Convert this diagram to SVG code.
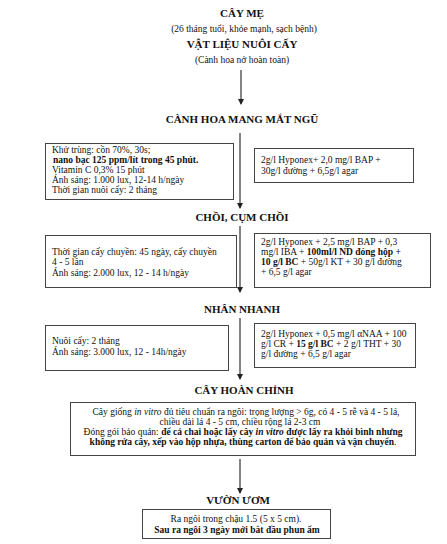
<svg xmlns="http://www.w3.org/2000/svg" width="447" height="544" viewBox="0 0 447 544">
<defs>
<marker id="ah" markerWidth="6" markerHeight="6" refX="5" refY="3" orient="auto" markerUnits="userSpaceOnUse">
<path d="M0,0 L6,3 L0,6 z" fill="#222"/>
</marker>
<style>
text{font-family:"Liberation Serif","Times New Roman",serif;fill:#111}
.t{font-size:11px;font-weight:bold;text-anchor:middle}
.s{font-size:9.5px;text-anchor:middle}
.b{font-size:9.5px}
.c{font-size:9.5px;text-anchor:middle}
.box{fill:#fff;stroke:#444;stroke-width:1}
.ln{stroke:#333;stroke-width:1.2;fill:none;marker-end:url(#ah)}
</style>
</defs>
<rect width="447" height="544" fill="#fff"/>
<g id="connectors">
<line class="ln" x1="241" y1="70" x2="241" y2="104"/>
<line class="ln" x1="240" y1="133" x2="240" y2="208"/>
<line class="ln" x1="240" y1="226" x2="240" y2="292"/>
<line class="ln" x1="240" y1="318" x2="240" y2="379"/>
<line class="ln" x1="240" y1="459" x2="240" y2="493"/>
</g>
<g id="cay-me">
<text class="t" x="242" y="17">CÂY MẸ</text>
<text class="s" x="244" y="32">(26 tháng tuổi, khỏe mạnh, sạch bệnh)</text>
<text class="t" x="242" y="48">VẬT LIỆU NUÔI CẤY</text>
<text class="s" x="242" y="63">(Cành hoa nở hoàn toàn)</text>
</g>
<g id="canh-hoa">
<text class="t" x="242" y="123">CÀNH HOA MANG MẮT NGŨ</text>
</g>
<g id="box1-left">
<rect class="box" x="45.5" y="143.5" width="188" height="56"/>
<text class="b" x="52" y="153">Khử trùng: cồn 70%, 30s;</text>
<text class="b" x="53" y="163" font-weight="bold">nano bạc 125 ppm/lít trong 45 phút.</text>
<text class="b" x="52" y="173">Vitamin C 0,3% 15 phút</text>
<text class="b" x="52" y="183">Ánh sáng: 1.000 lux, 12-14 h/ngày</text>
<text class="b" x="52" y="193">Thời gian nuôi cấy: 2 tháng</text>
</g>
<g id="box1-right">
<rect class="box" x="254.5" y="148.5" width="159" height="34"/>
<text class="b" x="261" y="163">2g/l Hyponex+ 2,0 mg/l BAP +</text>
<text class="b" x="261" y="174">30g/l đường + 6,5g/l agar</text>
</g>
<g id="choi">
<text class="t" x="242" y="221">CHỒI, CỤM CHỒI</text>
</g>
<g id="box2-left">
<rect class="box" x="45.5" y="235.5" width="191" height="52"/>
<text class="b" x="52" y="255">Thời gian cấy chuyền: 45 ngày, cấy chuyền</text>
<text class="b" x="52" y="265">4 - 5 lần</text>
<text class="b" x="52" y="276">Ánh sáng: 2.000 lux, 12 - 14 h/ngày</text>
</g>
<g id="box2-right">
<rect class="box" x="254.5" y="233.5" width="176" height="54"/>
<text class="b" x="261" y="245">2g/l Hyponex + 2,5 mg/l BAP + 0,3</text>
<text class="b" x="261" y="255">mg/l IBA + <tspan font-weight="bold">100ml/l ND đóng hộp +</tspan></text>
<text class="b" x="261" y="265"><tspan font-weight="bold">10 g/l BC</tspan> + 50g/l KT + 30 g/l đường</text>
<text class="b" x="261" y="275">+ 6,5 g/l agar</text>
</g>
<g id="nhan-nhanh">
<text class="t" x="242" y="313">NHÂN NHANH</text>
</g>
<g id="box3-left">
<rect class="box" x="45.5" y="325.5" width="183" height="45"/>
<text class="b" x="52" y="344">Nuôi cấy: 2 tháng</text>
<text class="b" x="52" y="355">Ánh sáng: 3.000 lux, 12 - 14h/ngày</text>
</g>
<g id="box3-right">
<rect class="box" x="254.5" y="323.5" width="161" height="44"/>
<text class="b" x="261" y="337">2g/l Hyponex + 0,5 mg/l αNAA + 100</text>
<text class="b" x="261" y="347">g/l CR + <tspan font-weight="bold">15 g/l BC</tspan> + 2 g/l THT + 30</text>
<text class="b" x="261" y="357">g/l đường + 6,5 g/l agar</text>
</g>
<g id="cay-hoan-chinh">
<text class="t" x="244" y="394">CÂY HOÀN CHỈNH</text>
<rect class="box" x="70.5" y="402.5" width="345" height="53"/>
<text class="c" x="246" y="415">Cây giống <tspan font-style="italic">in vitro</tspan> đủ tiêu chuẩn ra ngôi: trọng lượng &gt; 6g, có 4 - 5 rễ và 4 - 5 lá,</text>
<text class="c" x="240" y="425">chiều dài lá 4 - 5 cm, chiều rộng lá 2-3 cm</text>
<text class="c" x="243" y="435">Đóng gói bảo quản: <tspan font-weight="bold">để cả chai hoặc lấy cây <tspan font-style="italic">in vitro</tspan> được lấy ra khỏi bình nhưng</tspan></text>
<text class="c" x="243" y="445"><tspan font-weight="bold">không rửa cây, xếp vào hộp nhựa, thùng carton để bảo quản và vận chuyển</tspan>.</text>
</g>
<g id="vuon-uom">
<text class="t" x="238" y="504" font-size="10">VƯỜN ƯƠM</text>
<rect class="box" x="142.5" y="509.5" width="188" height="29"/>
<text class="c" x="236" y="522">Ra ngôi trong chậu 1.5 (5 x 5 cm).</text>
<text class="c" x="237" y="533" font-weight="bold">Sau ra ngôi 3 ngày mới bắt đầu phun ẩm</text>
</g>
</svg>
